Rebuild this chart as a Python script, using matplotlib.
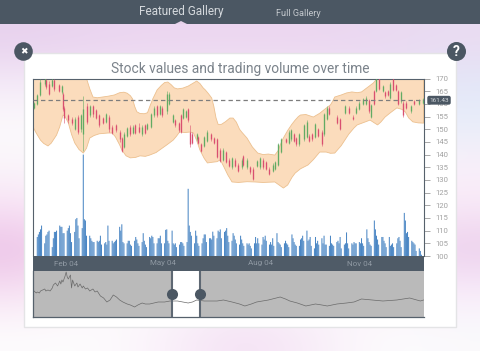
import numpy as np
import matplotlib
matplotlib.use("Agg")
import matplotlib.pyplot as plt
from matplotlib.patches import Rectangle, Circle, Polygon

W, H = 480, 351
plt.rcParams['font.family'] = ['Roboto', 'DejaVu Sans']

# x axis is day of year 2004
title = "Stock values and trading volume over time"
month_days = [31, 121, 213, 305]
month_labels = ["Feb 04", "May 04", "Aug 04", "Nov 04"]
y_ticks = list(range(100, 171, 5))
last_value = 161.43
window_days = [130, 156]

# bollinger style envelope
upper_days = [0, 25, 46, 50, 53, 56, 60, 65, 70, 76, 81, 85, 88, 91, 93, 95, 97, 100, 104, 107, 109, 112, 116, 120, 123, 126, 129, 132, 135, 140,
              145, 149, 153, 156, 159, 161, 164, 167, 169, 171, 173, 176, 180, 184, 187, 190, 193, 195, 200, 205, 210, 215, 220, 226, 229, 233, 238, 242, 245, 248,
              250, 255, 262, 268, 273, 278, 280, 282, 288, 293, 298, 303, 307, 312, 318, 322, 338, 341, 343, 346, 348, 365]
upper_vals = [176, 176, 172, 170, 166, 162.7, 162.4, 162.7, 163, 163.5, 164.4, 164.6, 164.2, 163.2, 162, 159, 156.9, 156.2, 156.1, 156.5, 158.8, 162, 165.5, 167.3, 168.4, 168.6, 167.6, 166.3, 165.9, 166.2,
              167, 168, 169, 168, 166.3, 165.5, 164, 162.3, 159, 154.5, 151.9, 151.9, 153, 154.4, 154.4, 152.8, 150, 148.9, 146.5, 143, 140.6, 140, 140.2, 139.8, 141.5, 145.8, 149.5, 152, 153.6, 155,
              155.6, 155.8, 154.8, 156.3, 158, 159.6, 161, 162.7, 163.5, 164.3, 164.7, 164.4, 164.7, 166.3, 168.2, 170.2, 171, 170.3, 169.8, 170, 171, 172]
lower_days = [0, 3, 7, 10, 14, 17, 22, 25, 28, 30, 33, 36, 39, 43, 47, 50, 53, 57, 62, 70, 74, 77, 81, 83, 87, 91, 96, 100, 105, 109,
              115, 120, 125, 131, 134, 137, 142, 147, 150, 153, 156, 160, 163, 168, 172, 175, 178, 182, 186, 192, 200, 207, 215, 226, 230, 234, 238, 242, 245, 250,
              257, 262, 268, 274, 278, 282, 288, 295, 300, 303, 310, 315, 319, 322, 325, 329, 334, 340, 345, 348, 351, 355, 360, 365]
lower_vals = [150.9, 148.5, 145.7, 144.4, 143.4, 144.5, 147.7, 151, 155.6, 155, 152.5, 148, 144.6, 142, 140.6, 142.5, 146.5, 147.5, 148.2, 148.5, 148.5, 147, 143.8, 141.8, 139.5, 138.7, 138.9, 139.5, 139.3, 139.8,
              140.8, 142.3, 143.8, 145.7, 147.2, 148.9, 148.7, 148.9, 148.5, 145.5, 141.8, 138.5, 136.7, 137, 137.2, 137.9, 135.5, 132, 129.2, 129, 129.3, 129.2, 129, 129.2, 128, 126.8, 128, 131, 132.7, 134.4,
              135.9, 138, 141, 141, 140.5, 140.6, 143.5, 148, 150.5, 151.7, 152.8, 153.6, 152.5, 151.7, 152.8, 154.8, 156.5, 158.4, 157.8, 156.8, 154.5, 152.9, 152.5, 152.4]

# candles
candle_days = [1, 4, 7, 11, 12, 15, 18, 20, 24, 27, 28, 29, 33, 36, 39, 42, 45, 47, 50, 53,
               56, 59, 62, 65, 68, 71, 74, 78, 81, 83, 85, 88, 91, 93, 95, 99, 102, 105, 107, 110,
               113, 116, 119, 121, 125, 127, 131, 133, 136, 138, 140, 143, 145, 147, 149, 153, 154, 157, 160, 163,
               166, 169, 172, 175, 178, 180, 183, 186, 189, 192, 195, 196, 200, 203, 206, 209, 212, 215, 218, 221,
               224, 226, 229, 232, 236, 239, 241, 244, 246, 249, 253, 256, 258, 261, 264, 266, 270, 272, 275, 277,
               284, 287, 292, 295, 299, 302, 305, 308, 311, 314, 316, 319, 321, 323, 327, 329, 332, 334, 336, 339,
               341, 344, 346, 349, 353, 356, 361, 364]
opens = [158.4, 160, 163.5, 168, 169.5, 168, 167, 169.5, 167.5, 164.5, 164, 158.5, 155.5, 154, 150, 155, 150, 148, 159, 155.5,
         159, 157.5, 155.5, 154.5, 153, 155, 151, 151.5, 149, 146.5, 143, 147.5, 151, 148.5, 151.5, 151, 148, 151.5, 150, 151,
         155.5, 159, 156, 158.5, 157, 160, 153, 153.5, 152.5, 155.5, 154.5, 155, 158, 149, 148, 146, 147, 144, 143.5, 145.5,
         148, 146.5, 146, 142, 138, 141, 138, 135, 138, 136, 135, 139.5, 135, 135, 134.5, 135.5, 135, 138, 137, 134.5,
         133.5, 134.5, 136, 141, 146, 144.5, 146, 148, 146.5, 144, 146, 147, 147.5, 148, 147, 150, 149, 148, 154, 158.5,
         155, 154, 156.5, 158.5, 155, 156.5, 158, 160, 160, 161.5, 155, 165, 165, 170, 165, 164.5, 165, 162.5, 170, 167.5,
         165, 161, 160.5, 160.5, 157, 161, 160, 160.5]
closes = [160.3, 163.5, 168.5, 170, 166.5, 164, 169.5, 166, 165, 167, 158, 154.5, 153.5, 152.5, 154, 149, 155.5, 158, 153, 159,
          156, 154.5, 151.5, 152.5, 156, 150, 148.5, 149.5, 146, 141.5, 148, 150.5, 148, 151, 148.5, 149, 151, 148.5, 152, 156,
          158.5, 155.5, 159, 155.5, 164, 164, 155.5, 151.5, 149.5, 149, 158, 157, 153.5, 144, 144.5, 148, 144.5, 141.5, 147, 149,
          146, 144.5, 139, 137.5, 142, 137, 135.5, 138.5, 135.5, 133.5, 138, 136, 138, 133, 130.5, 137.5, 138.5, 135, 134.5, 132.5,
          136, 137, 144, 146, 145, 149, 149.5, 145.5, 144, 148, 151.5, 153, 145.5, 146, 152, 147.5, 144, 156, 158.5, 156,
          152.5, 150, 159, 156.5, 154, 158.5, 160.5, 162, 162.5, 157, 159.5, 160, 170, 166, 167, 163, 163.5, 168, 165.5, 165.5,
          160, 164.5, 155.5, 158.5, 159, 160, 161.5, 162]
lows = [157.8, 159.5, 163, 167, 166, 163.5, 166.5, 165, 164.5, 164, 157, 152.5, 152.5, 151.5, 149.5, 148, 149, 141.5, 152, 155,
        155, 154, 151, 152, 152.5, 149, 148, 149, 145, 141, 142.5, 147, 147.5, 148, 148, 148.5, 147.5, 148, 149.5, 150.5,
        155, 155, 155.5, 155, 156, 159.5, 152.5, 151, 149, 148.5, 154, 154.5, 153, 143, 144, 145.5, 144, 141, 143, 145,
        145.5, 144, 138.5, 137, 137.5, 136.5, 135, 134.5, 135, 133, 134.5, 135.5, 134.5, 132.5, 130, 135, 134.5, 134.5, 134, 132,
        133, 134, 135.5, 140.5, 144.5, 144, 145.5, 145, 143.5, 143.5, 145.5, 146.5, 145, 145.5, 146.5, 147, 143.5, 147.5, 153.5, 155.5,
        152, 149.5, 156, 156, 153.5, 156, 157.5, 159.5, 159.5, 156.5, 154.5, 159.5, 164.5, 165.5, 164.5, 162.5, 163, 162, 165, 165,
        159.5, 160.5, 155, 158, 156.5, 159.5, 159.5, 160]
highs = [160.8, 164, 170, 171, 170, 169, 171, 170, 168, 167.5, 164.5, 159, 156, 155, 155, 155.5, 156, 163, 160.5, 159.5,
         159.5, 158, 156, 155, 156.5, 155.5, 151.5, 152, 149.5, 147, 149, 151, 151.5, 151.5, 152, 152.5, 151.5, 152, 152.5, 156.5,
         159, 159.5, 159.5, 159, 165, 164.5, 156, 154, 153, 156, 158.5, 157.5, 158.5, 151.5, 149, 148.5, 147.5, 144.5, 147.5, 149.5,
         148.5, 147, 146.5, 142.5, 142.5, 141.5, 138.5, 139, 138.5, 136.5, 138.5, 140, 138.5, 135.5, 135, 138, 139, 138.5, 137.5, 135,
         136.5, 137.5, 144.5, 146.5, 146.5, 149.5, 150, 148.5, 147, 148.5, 152, 153.5, 148, 148.5, 152.5, 150.5, 149.5, 156.5, 159, 159,
         155.5, 154.5, 159.5, 159, 155.5, 159, 161, 162.5, 163, 162, 160, 165.5, 170.5, 170.5, 167.5, 165, 165.5, 168.5, 170.5, 168,
         165.5, 165, 161, 161, 159.5, 161.5, 162, 162.5]

# volume, one row per trading week (mon..fri), height read against the price scale
week_starts = [4, 11, 18, 25, 32, 39, 46, 53, 60, 67, 74, 81, 88, 95, 102, 109, 116, 123, 130, 137,
               144, 151, 158, 165, 172, 179, 186, 193, 200, 207, 214, 221, 228, 235, 242, 249, 256, 263, 270, 277,
               284, 291, 298, 305, 312, 319, 326, 333, 340, 347, 354, 361]
volumes = [7.5, 8.5, 9.5, 10.5, 12,   5, 8, 8.5, 9.5, 10,   3.5, 7, 9.5, 9.5, 10,   12, 11.5, 11.5, 9, 9,
           10, 11, 12, 9, 5.5,   9.5, 14.5, 15, 12, 7,   11, 40, 14.5, 14, 8,   8, 7, 6, 5.5, 5.5,
           6, 5.5, 6, 8, 4.5,   5, 5.5, 4.5, 12, 6,   6, 5, 5.5, 6, 6.5,   11.5, 10, 12.5, 5.5, 5,
           5, 6, 6, 4.5, 4,   6, 7.5, 6.5, 5, 4,   5.5, 9, 6, 4.5, 3.5,   7.5, 7, 8, 7.5, 5,
           5, 7, 7, 8, 5,   5, 10.3, 10.5, 6, 5,   10, 5, 4.5, 5, 3.5,   4.5, 5.5, 5.5, 5, 4,
           5.5, 26.5, 12, 9.5, 8,   5, 10, 8, 5, 4,   5, 7, 8.5, 8.5, 5.5,   7, 7, 6.5, 9.6, 8,
           7, 10, 9.5, 10.5, 7,   9.5, 10, 11, 8, 5.5,   6, 9, 8, 6.5, 5,   4.5, 8, 6.5, 5, 4,
           5, 4.5, 5, 4, 3,   5, 7.5, 5, 7, 5,   4.5, 7.5, 6.5, 8, 6,   4.5, 5.5, 4.5, 7, 4,
           9, 5.5, 5, 4.5, 3.5,   5, 6, 5, 4.5, 3.5,   8.5, 7, 5.5, 4.5, 4,   4, 6.5, 7, 8, 6,
           10, 6, 6.5, 7.5, 4,   3, 7.5, 5, 6, 4.5,   7, 5, 8, 4.5, 4.5,   4, 8, 5, 4.5, 4,
           5.5, 6, 5, 7.5, 3,   4.5, 5, 9.3, 5, 3,   5, 4.5, 5.5, 5, 5,   5.5, 5, 7, 5, 4,
           10.5, 7, 5.5, 4.5, 4,   14, 10.5, 8, 6.5, 4.5,   7.5, 7.5, 6, 5, 3.5,   7.5, 4, 4.5, 5, 3.5,
           5, 7, 7.5, 6, 3.5,   17, 14, 9, 9.5, 7.5,   6, 5.5, 5, 4.5, 2,   3, 2, 0.5, 0, 0]

# navigator series
nav_days = [0, 1, 3, 4, 6, 7, 9, 11, 12, 14, 16, 18, 19, 21, 23, 25, 26, 27, 28, 30, 31, 32, 33, 35, 36, 37, 39, 41, 42, 44, 46, 47, 49,
            51, 53, 56, 58, 60, 63, 66, 69, 72, 75, 78, 81, 84, 88, 91, 95, 98, 102, 105, 109, 113, 117, 123, 128, 135, 140, 145, 149, 153, 160, 165,
            172, 178, 186, 193, 198, 204, 209, 220, 231, 236, 240, 247, 255, 264, 270, 275, 284, 293, 300, 307, 317, 327, 340, 352, 362, 365]
nav_vals = [25, 26, 24, 25, 24, 26, 27, 28, 26, 27, 26, 29, 32, 34, 31, 36, 33, 37, 35, 41, 45, 40, 38, 42, 29, 37, 31, 34, 30, 33, 29, 31, 28,
            29, 26, 28, 25, 26, 21, 19, 15, 17, 22, 20, 17, 15, 13, 12, 10, 12, 14, 13, 13, 14, 15, 15, 16, 16, 15, 14, 15, 17, 16, 16,
            16, 17, 15, 13, 11, 13, 15, 17, 20, 18, 16, 14, 11, 13, 12, 11, 13, 14, 15, 18, 17, 16, 17, 19, 16, 17]

# soft backdrop colours, rows top to bottom
bg_colors = [[[232, 210, 238], [235, 213, 240], [236, 214, 240], [236, 214, 240], [236, 214, 240], [234, 216, 241], [234, 220, 242]],
             [[245, 235, 248], [245, 235, 248], [245, 235, 248], [245, 235, 248], [245, 235, 248], [240, 228, 246], [226, 232, 248]],
             [[252, 250, 252], [252, 250, 252], [252, 252, 252], [252, 252, 252], [252, 252, 252], [235, 238, 250], [233, 238, 250]],
             [[250, 245, 250], [252, 250, 252], [252, 252, 252], [252, 252, 252], [252, 252, 252], [248, 245, 251], [250, 240, 250]],
             [[248, 225, 245], [252, 250, 252], [252, 252, 252], [252, 252, 252], [252, 252, 252], [250, 240, 250], [248, 232, 247]],
             [[235, 192, 230], [250, 240, 248], [252, 252, 252], [252, 252, 252], [252, 252, 252], [245, 225, 245], [235, 205, 235]],
             [[246, 222, 242], [252, 250, 252], [252, 252, 252], [252, 252, 252], [252, 252, 252], [250, 238, 250], [248, 235, 250]],
             [[253, 252, 253], [253, 252, 253], [250, 240, 250], [244, 224, 244], [248, 236, 248], [253, 252, 253], [250, 250, 252]]]

DARK = '#4b5763'
px = 1 / 100

fig = plt.figure(figsize=(W * px, H * px), dpi=100, facecolor='white')


def add_px_axes(x0, y0, x1, y1):
    return fig.add_axes([x0 / W, 1 - y1 / H, (x1 - x0) / W, (y1 - y0) / H])


# page furniture
page = fig.add_axes([0, 0, 1, 1], zorder=0)
page.axis('off')
page.imshow(np.array(bg_colors, dtype=np.uint8), extent=(0, W, 351, 24), interpolation='bicubic', aspect='auto')
page.set_xlim(0, W)
page.set_ylim(H, 0)
page.add_patch(Rectangle((0, 0), W, 24, fc=DARK, ec='none'))
page.add_patch(Polygon([[175, 24], [181, 21], [187, 24]], fc='#e6d2ea', ec='none'))
page.add_patch(Rectangle((24, 52.5), 432, 274, fc='white', ec='#e4e4e6', lw=1.0))
page.text(181, 12, "Featured Gallery", color='#d5d9dd', fontsize=8.5, ha='center', va='center')
page.text(298.5, 13, "Full Gallery", color='#c4c9ce', fontsize=6.6, ha='center', va='center')
page.text(240, 69, title, color='#7b838b', fontsize=9.9, ha='center', va='center')
page.add_patch(Circle((23.5, 51.5), 9.3, fc=DARK, ec='none'))
page.text(23.5, 51.5, "\u2716", color='white', fontsize=6.5, ha='center', va='center', family='DejaVu Sans')
page.add_patch(Circle((456.5, 51.5), 9.5, fc=DARK, ec='none'))
page.text(456.5, 51.5, "?", color='white', fontsize=10, fontweight='bold', ha='center', va='center')

# main chart
ax = add_px_axes(33, 78.5, 424, 256)
ax.set_zorder(2)
ax.set_xlim(0, 365.4)
ax.set_ylim(100, 170)

ax.fill(upper_days + lower_days[::-1], upper_vals + lower_vals[::-1],
        facecolor='#fbdcbc', edgecolor='#ecc08f', lw=0.6, joinstyle='round', zorder=1)

vol_days = [s + i for s in week_starts for i in range(5)]
vol_bars = ax.bar(vol_days, volumes, bottom=100, width=0.95, color='#4a86c4', lw=0, zorder=2)
for b in vol_bars:
    b.set_snap(False)

is_up = np.array(closes) >= np.array(opens)
colors = ['#62ab64' if u else '#d94f70' for u in is_up]
ax.vlines(candle_days, lows, highs, colors=colors, lw=0.4, zorder=3)
ax.vlines(candle_days, opens, closes, colors=colors, lw=0.95, zorder=3)

ax.axhline(last_value, color='#7d7d7d', lw=0.9, dashes=(3.5, 2.5), zorder=4)

ax.yaxis.tick_right()
ax.set_yticks(y_ticks)
ax.tick_params(axis='y', length=4, width=0.6, color='#9a9a9a', labelcolor='#a2a2a2', labelsize=5.6, pad=4)
ax.set_xticks([])
for side in ['left', 'right', 'top']:
    ax.spines[side].set_color('#56616c')
    ax.spines[side].set_linewidth(0.8)
ax.spines['bottom'].set_visible(False)
ax.text(1.0384, last_value, f"{last_value:.2f}", color='#d5d9dd', fontsize=4.6, ha='center', va='center',
        transform=ax.get_yaxis_transform(), clip_on=False, zorder=10,
        bbox=dict(boxstyle='round,pad=0.3', fc=DARK, ec='none'))

# month strip
band = add_px_axes(33, 256, 424, 271)
band.set_zorder(2)
band.set_facecolor('#4f5b67')
band.set_xlim(0, 365.4)
band.set_ylim(0, 1)
band.set_xticks([])
band.set_yticks([])
for s in band.spines.values():
    s.set_visible(False)
for d, lab in zip(month_days, month_labels):
    band.text(d, 0.5, lab, color='#8f99a3', fontsize=5.8, ha='center', va='center')

# navigator
nav = add_px_axes(33, 271, 424, 317)
nav.set_zorder(2)
nav.set_facecolor('#bababa')
nav.set_xlim(0, 365.4)
nav.set_ylim(0, 46)
nav.axvspan(window_days[0], window_days[1], color='white', lw=0, zorder=1)
nav.plot(nav_days, nav_vals, color='#6a6a6a', lw=0.5, zorder=2)
nav.vlines(window_days, 0, 46, color='#5e6873', lw=1.5, zorder=3)
nav.scatter(window_days, [23, 23], s=64, color=DARK, lw=0, zorder=4, clip_on=False)
nav.set_xticks([])
nav.set_yticks([])
for s in ['top', 'right']:
    nav.spines[s].set_visible(False)
for s in ['left', 'bottom']:
    nav.spines[s].set_color('#56616c')
    nav.spines[s].set_linewidth(0.9)

fig.savefig('out.png', dpi=100, facecolor='white')
